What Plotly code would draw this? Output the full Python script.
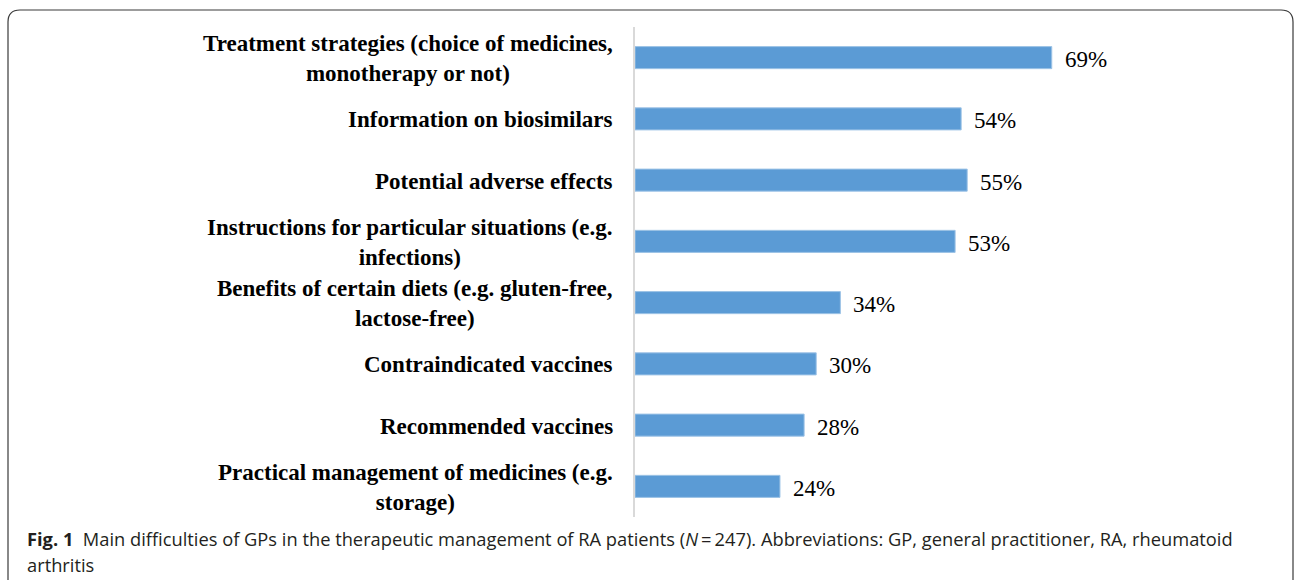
import plotly.graph_objects as go

categories = [
    "Treatment strategies (choice of medicines,<br>monotherapy or not)",
    "Information on biosimilars",
    "Potential adverse effects",
    "Instructions for particular situations (e.g.<br>infections)",
    "Benefits of certain diets (e.g. gluten-free,<br>lactose-free)",
    "Contraindicated vaccines",
    "Recommended vaccines",
    "Practical management of medicines (e.g.<br>storage)",
]
values = [69, 54, 55, 53, 34, 30, 28, 24]
caption_line1 = ("<b>Fig. 1</b>  Main difficulties of GPs in the therapeutic management of RA patients "
                 "(<i>N</i>\u2009=\u2009247). Abbreviations: GP, general practitioner, RA, rheumatoid")
caption_line2 = "arthritis"

W, H = 1295, 580
ML, MR, MT, MB = 635, 56, 27, 63
PW = W - ML - MR
PH = H - MT - MB


def px(x):
    return (x - ML) / PW


def py(y):
    return 1 - (y - MT) / PH


fig = go.Figure()
fig.add_trace(go.Bar(
    x=values, y=categories, orientation="h",
    marker=dict(color="#5b9bd5", line=dict(color="#9dc3e6", width=1)),
    width=0.36, hoverinfo="skip",
))

annotations = []
for c, v in zip(categories, values):
    annotations.append(dict(
        x=0, y=c, xref="x", yref="y", text="<b>" + c + "</b>", showarrow=False,
        xanchor="right", yanchor="middle", align="center", xshift=-20, yshift=-1,
        font=dict(family="Liberation Serif", size=23, color="#000000"),
    ))
    annotations.append(dict(
        x=v, y=c, xref="x", yref="y", text=f"{v}%", showarrow=False,
        xanchor="left", yanchor="middle", xshift=11, yshift=-2,
        font=dict(family="Liberation Serif", size=23, color="#000000"),
    ))

annotations.append(dict(
    x=px(25), y=py(538), xref="paper", yref="paper", text=caption_line1,
    showarrow=False, xanchor="left", yanchor="middle", align="left",
    font=dict(family="Open Sans", size=18.3, color="#231f20"),
))
annotations.append(dict(
    x=px(25), y=py(564), xref="paper", yref="paper", text=caption_line2,
    showarrow=False, xanchor="left", yanchor="middle", align="left",
    font=dict(family="Open Sans", size=18.3, color="#231f20"),
))

pts = [(8, 600), (8, 22), (8, 10), (20, 10), (1281, 10), (1293, 10), (1293, 22), (1293, 600)]
P = [(px(a), py(b)) for a, b in pts]
path = (f"M {P[0][0]},{P[0][1]} L {P[1][0]},{P[1][1]} Q {P[2][0]},{P[2][1]} {P[3][0]},{P[3][1]} "
        f"L {P[4][0]},{P[4][1]} Q {P[5][0]},{P[5][1]} {P[6][0]},{P[6][1]} L {P[7][0]},{P[7][1]}")

fig.update_layout(
    width=W, height=H,
    margin=dict(l=ML, r=MR, t=MT, b=MB),
    paper_bgcolor="white", plot_bgcolor="white",
    showlegend=False,
    xaxis=dict(range=[0, 100], visible=False, fixedrange=True),
    yaxis=dict(autorange="reversed", showticklabels=False, ticks="",
               showline=True, linecolor="#d9d9d9", linewidth=2,
               showgrid=False, zeroline=False, fixedrange=True),
    annotations=annotations,
    shapes=[dict(type="path", path=path, xref="paper", yref="paper",
                 line=dict(color="#3a3a3a", width=1.2))],
)

fig.write_html("out.html", config={"displayModeBar": False},
               post_script="document.body.style.margin='0';document.body.style.overflow='hidden';")
